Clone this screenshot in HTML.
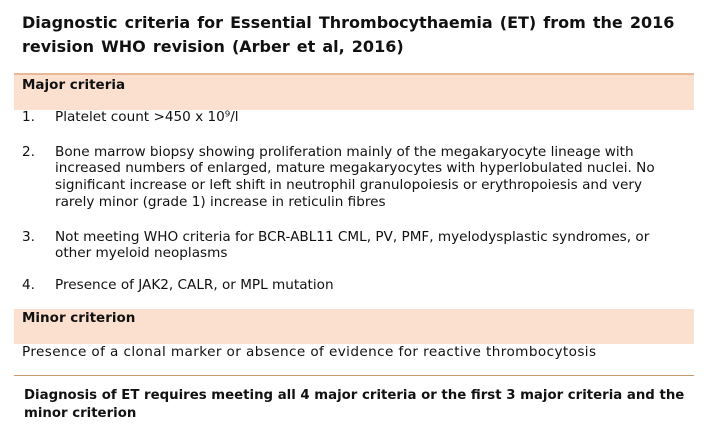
<!DOCTYPE html>
<html><head><meta charset="utf-8"><style>
body{margin:0;width:719px;height:442px;background:#fff;position:relative;overflow:hidden;font-family:"DejaVu Sans","Liberation Sans",sans-serif;color:#111}
.t{position:absolute;white-space:nowrap;line-height:1}
.title{font-weight:bold;font-size:16px;left:22px;word-spacing:1.5px}
.b{position:absolute;left:14px;width:680px;background:#fbe0d0}
.h{font-weight:bold;font-size:13.5px;left:22px}
.p{font-size:13.6px;left:55px}
.n{font-size:13.6px;left:22px}
.d{font-weight:bold;font-size:13.3px;left:24px}
</style></head><body>
<div class="t title" style="top:15px">Diagnostic criteria for Essential Thrombocythaemia (ET) from the 2016</div>
<div class="t title" style="top:39px">revision WHO revision (Arber et al, 2016)</div>
<div class="b" style="top:73px;height:35px;border-top:2px solid #e8b898"></div>
<div class="t h" style="top:79px">Major criteria</div>
<div class="t n" style="top:111px">1.</div>
<div class="t p" style="top:111px">Platelet count &gt;450 x 10⁹/l</div>
<div class="t n" style="top:146px">2.</div>
<div class="t p" style="top:146px">Bone marrow biopsy showing proliferation mainly of the megakaryocyte lineage with</div>
<div class="t p" style="top:162px">increased numbers of enlarged, mature megakaryocytes with hyperlobulated nuclei. No</div>
<div class="t p" style="top:179px">significant increase or left shift in neutrophil granulopoiesis or erythropoiesis and very</div>
<div class="t p" style="top:196px">rarely minor (grade 1) increase in reticulin fibres</div>
<div class="t n" style="top:231px">3.</div>
<div class="t p" style="top:231px">Not meeting WHO criteria for BCR-ABL11 CML, PV, PMF, myelodysplastic syndromes, or</div>
<div class="t p" style="top:247px">other myeloid neoplasms</div>
<div class="t n" style="top:279px">4.</div>
<div class="t p" style="top:279px">Presence of JAK2, CALR, or MPL mutation</div>
<div class="b" style="top:309px;height:35px"></div>
<div class="t h" style="top:312px">Minor criterion</div>
<div class="t n" style="top:346px;letter-spacing:0.4px">Presence of a clonal marker or absence of evidence for reactive thrombocytosis</div>
<div style="position:absolute;left:14px;top:375px;width:680px;height:1px;background:#c89a70"></div>
<div class="t d" style="top:389px">Diagnosis of ET requires meeting all 4 major criteria or the first 3 major criteria and the</div>
<div class="t d" style="top:407px">minor criterion</div>
</body></html>
